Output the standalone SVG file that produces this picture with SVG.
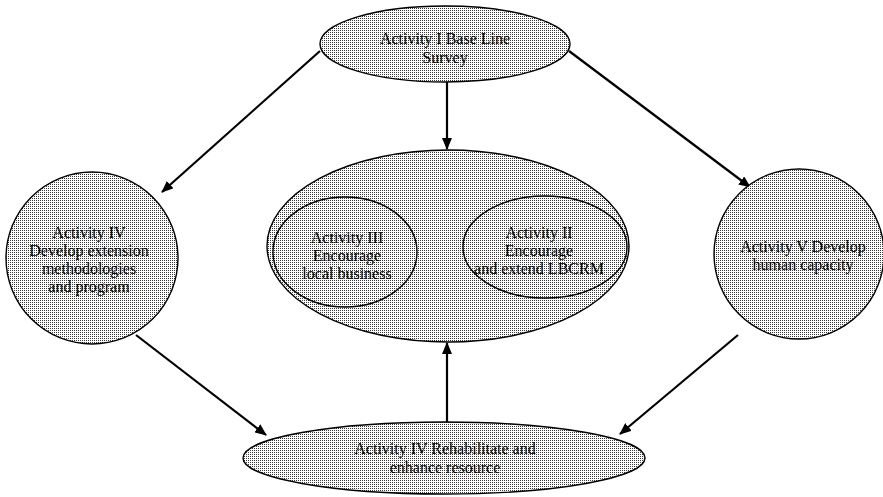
<svg xmlns="http://www.w3.org/2000/svg" width="883" height="497" viewBox="0 0 883 497">
  <defs>
    <!-- fine stipple fill used by every activity shape -->
    <pattern id="stipple" x="0" y="0" width="2" height="2" patternUnits="userSpaceOnUse">
      <rect width="2" height="2" fill="#ffffff"/>
      <rect x="0" y="0" width="1" height="1" fill="#3a3a3a"/>
    </pattern>
    <marker id="arrow" markerWidth="12" markerHeight="10" refX="11" refY="5" orient="auto" markerUnits="userSpaceOnUse">
      <path d="M0,0 L12,5 L0,10 Z" fill="#000"/>
    </marker>
  </defs>
  <style>
    .shape { fill: url(#stipple); stroke: #000; stroke-width: 1.4; }
    .label { font-family: "Liberation Serif", "Times New Roman", serif; font-size: 16px; fill: #000; text-anchor: middle; }
    .edge { stroke: #000; stroke-width: 2.2; fill: none; marker-end: url(#arrow); }
  </style>

  <rect width="883" height="497" fill="#ffffff"/>

  <g id="connectors">
    <line class="edge" x1="447" y1="82" x2="447" y2="149"/>
    <line class="edge" x1="320" y1="51" x2="162" y2="192"/>
    <line class="edge" x1="569" y1="51" x2="750" y2="187"/>
    <line class="edge" x1="136" y1="335" x2="266" y2="435"/>
    <line class="edge" x1="738" y1="335" x2="620" y2="434"/>
    <line class="edge" x1="447" y1="422" x2="447" y2="343"/>
  </g>

  <g id="activity-1">
    <ellipse class="shape" cx="445" cy="44" rx="125" ry="38"/>
    <text class="label" x="445" y="44">Activity I Base Line</text>
    <text class="label" x="445" y="63">Survey</text>
  </g>

  <g id="activity-4-extension">
    <circle class="shape" cx="92" cy="258" r="86"/>
    <text class="label" x="89" y="238">Activity IV</text>
    <text class="label" x="89" y="256">Develop extension</text>
    <text class="label" x="89" y="274">methodologies</text>
    <text class="label" x="89" y="292">and program</text>
  </g>

  <g id="activity-5">
    <circle class="shape" cx="799" cy="254" r="85"/>
    <text class="label" x="803" y="252">Activity V Develop</text>
    <text class="label" x="803" y="270">human capacity</text>
  </g>

  <g id="center-group">
    <ellipse class="shape" cx="448" cy="246" rx="181" ry="96"/>
  </g>

  <g id="activity-3">
    <ellipse class="shape" cx="345" cy="252" rx="72" ry="55"/>
    <text class="label" x="347" y="243">Activity III</text>
    <text class="label" x="347" y="261">Encourage</text>
    <text class="label" x="347" y="279">local business</text>
  </g>

  <g id="activity-2">
    <ellipse class="shape" cx="545" cy="247" rx="82" ry="51"/>
    <text class="label" x="539" y="238">Activity II</text>
    <text class="label" x="539" y="256">Encourage</text>
    <text class="label" x="539" y="274">and extend LBCRM</text>
  </g>

  <g id="activity-4-rehabilitate">
    <ellipse class="shape" cx="444" cy="458" rx="201" ry="36"/>
    <text class="label" x="445" y="454">Activity IV Rehabilitate and</text>
    <text class="label" x="445" y="473">enhance resource</text>
  </g>
</svg>
